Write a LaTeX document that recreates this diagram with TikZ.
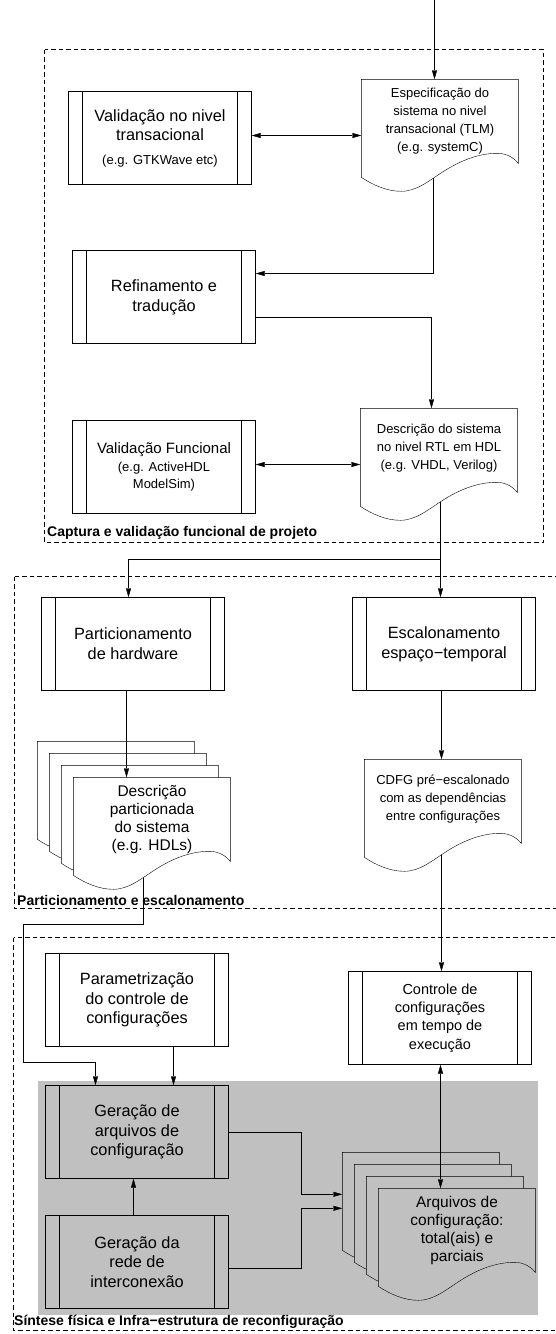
\documentclass[tikz,border=0pt]{standalone}
\usepackage{fontspec}
\setmainfont{Liberation Sans}
\usetikzlibrary{arrows.meta,calc}
\definecolor{panelgray}{RGB}{192,192,192}
\pgfdeclarelayer{bg}
\pgfdeclarelayer{wires}
\pgfdeclarelayer{pages}
\pgfdeclarelayer{front}
\pgfsetlayers{bg,wires,pages,main,front}

% one document page: straight top and sides, wavy bottom edge
\newcommand\docpage[2]{%
  \begin{scope}[shift={(#1)}]
    \draw[fill=#2] (0,0) -- (0,98)
      .. controls (12,106) and (26,112) .. (40,112)
      .. controls (56,112) and (68,101) .. (84,91)
      .. controls (100,81) and (118,74) .. (136,74)
      .. controls (146,74) and (153,79) .. (157,84)
      -- (157,0) -- cycle;
  \end{scope}}

\begin{document}
\lineskiplimit=-20pt
\begin{tikzpicture}[x=1pt,y=-1pt,line width=1pt,
  >={Triangle[length=9pt,width=5pt]},
  proc/.style={draw,minimum width=183pt,minimum height=93pt,inner sep=0pt,align=center,
    font=\fontsize{16.3}{19.8}\selectfont,
    path picture={\draw ([xshift=14pt]path picture bounding box.north west) -- ([xshift=14pt]path picture bounding box.south west)
      ([xshift=-14pt]path picture bounding box.north east) -- ([xshift=-14pt]path picture bounding box.south east);}},
  doc/.style={minimum width=157pt,minimum height=84pt,inner sep=0pt,align=center,
    font=\fontsize{13}{18}\selectfont},
  stackdoc/.style={doc,font=\fontsize{15.5}{18.3}\selectfont},
  grouplabel/.style={inner sep=0pt,anchor=base west,font=\bfseries\fontsize{14}{16}\selectfont},
  groupbox/.style={dash pattern=on 4.5pt off 3pt,line width=0.8pt}]

\useasboundingbox (0,0) rectangle (555,1334);

% group frames and the shaded synthesis panel
\begin{pgfonlayer}{bg}
  \draw[groupbox] (44.5,49.5) rectangle (543.5,542.5);
  \draw[groupbox] (14.5,576.5) rectangle (570,908.5);
  \draw[groupbox] (13.5,937.5) rectangle (570,1330.5);
  \fill[panelgray] (38,1081) rectangle (538,1315);
\end{pgfonlayer}

% process boxes
\node[proc] (valT) at (160,138) {Validação no nivel\\transacional\\[3.5pt]{\fontsize{13}{15}\selectfont (e.g. GTKWave etc)}};
\node[proc] (refin) at (164,297) {Refinamento e\\tradução};
\node[proc,font=\fontsize{15}{16.7}\selectfont] (valF) at (164,467)
  {Validação Funcional\\[1.6pt]{\fontsize{13}{15}\selectfont (e.g. ActiveHDL}\\{\fontsize{13}{15}\selectfont ModelSim)}};
\node[proc] (partic) at (133,644) {Particionamento\\de hardware};
\node[proc] (escal) at (444,644) {Escalonamento\\espaço−temporal};
\node[proc] (param) at (137,1000) {Parametrização\\do controle de\\configurações};
\node[proc,font=\fontsize{14.5}{18.3}\selectfont] (ctrl) at (440,1018)
  {Controle de\\configurações\\em tempo de\\execução};
\node[proc] (gerArq) at (137,1132) {Geração de\\arquivos de\\configuração};
\node[proc] (gerRede) at (137,1262) {Geração da\\rede de\\interconexão};

% documents
\node[doc] (doc1) at (440,121.5) {Especificação do\\sistema no nivel\\transacional (TLM)\\(e.g. systemC)};
\node[doc,text depth=7pt] (doc2) at (439,450.5) {Descrição do sistema\\no nivel RTL em HDL\\(e.g. VHDL, Verilog)};
\node[doc,text depth=8pt] (cdfg) at (443,801.5) {CDFG pré−escalonado\\com as dependências\\entre configurações};
\node[stackdoc] (stackA) at (152,819.5) {Descrição\\particionada\\do sistema\\(e.g. HDLs)};
\node[stackdoc] (stackB) at (457,1230.5) {Arquivos de\\configuração:\\total(ais) e\\parciais};
\coordinate (stackBbk) at ([xshift=-36pt,yshift=36pt]stackB.north west);

\begin{pgfonlayer}{pages}
  \docpage{doc1.north west}{white}
  \docpage{doc2.north west}{white}
  \docpage{cdfg.north west}{white}
  \docpage{[xshift=-36pt,yshift=36pt]stackA.north west}{white}
  \docpage{[xshift=-24pt,yshift=24pt]stackA.north west}{white}
  \docpage{[xshift=-12pt,yshift=12pt]stackA.north west}{white}
  \docpage{stackA.north west}{white}
  \docpage{[xshift=-36pt,yshift=36pt]stackB.north west}{panelgray}
  \docpage{[xshift=-24pt,yshift=24pt]stackB.north west}{panelgray}
  \docpage{[xshift=-12pt,yshift=12pt]stackB.north west}{panelgray}
  \docpage{stackB.north west}{panelgray}
\end{pgfonlayer}

% group titles
\node[grouplabel] (lblA) at (47,536) {Captura e validação funcional de projeto};
\node[grouplabel] (lblB) at (17,905) {Particionamento e escalonamento};
\node[grouplabel] (lblC) at (14,1325) {Síntese física e Infra−estrutura de reconfiguração};

% connectors
\begin{pgfonlayer}{wires}
  \coordinate (feed) at (434.5,0);
  \draw[->] (feed) -- (feed |- doc1.north);
  \draw[<->] ([yshift=2.5pt]valT.east) -- ([yshift=2.5pt]valT.east -| doc1.west);
  \draw[->] ([xshift=-6.5pt]doc1.south) |- ([yshift=23.5pt]refin.east);
  \draw[->] ([yshift=-20.5pt]refin.east) -| ([xshift=-7.5pt]doc2.north);
  \draw[<->] ([yshift=2.5pt]valF.east) -- ([yshift=2.5pt]valF.east -| doc2.west);
  \coordinate (fork) at ($([xshift=1.5pt]doc2.south)+(0,66)$);
  \draw ([xshift=1.5pt]doc2.south) -- (fork);
  \draw[->] (fork) -- (fork |- escal.north);
  \draw[->] (fork) -| ([xshift=-4.5pt]partic.north);
  \draw[->] ([xshift=-2.5pt]escal.south) -- ([xshift=-2.5pt]escal.south |- cdfg.north);
  \draw[->] ([xshift=-1.5pt]cdfg.south) -- ([xshift=-1.5pt]cdfg.south |- ctrl.north);
  \draw[->] ([xshift=-8.5pt]stackA.south) -- ++(0,62) -- ++(-120,0) -- ++(0,138) -| ([xshift=-41.5pt]gerArq.north);
  \draw[->] ([xshift=36.5pt]param.south) -- ([xshift=36.5pt]param.south |- gerArq.north);
  \draw[->] ([xshift=-3.5pt]gerRede.north) -- ([xshift=-3.5pt]gerRede.north |- gerArq.south);
  \draw[->] ([yshift=-0.5pt]gerArq.east) -- ++(72,0) |- ([yshift=-42pt]stackBbk);
  \draw[->] ([yshift=-6.5pt]gerRede.east) -- ++(72,0) |- ([yshift=-56pt]stackBbk);
\end{pgfonlayer}

\begin{pgfonlayer}{front}
  \draw[->] ([xshift=-6.5pt]partic.south) -- ([xshift=-6.5pt]partic.south |- stackA.north);
  \draw[<->] ([xshift=0.5pt]ctrl.south) -- ([xshift=0.5pt]ctrl.south |- stackB.north);
\end{pgfonlayer}

\end{tikzpicture}
\end{document}
